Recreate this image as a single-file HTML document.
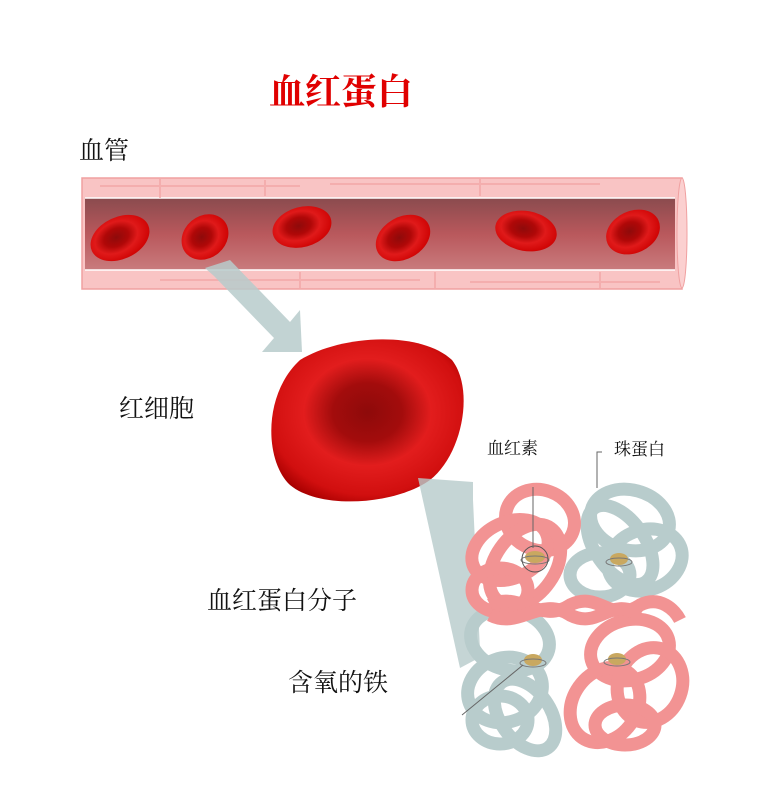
<!DOCTYPE html>
<html><head><meta charset="utf-8"><style>
body{margin:0;background:#fff;width:763px;height:810px;overflow:hidden;position:relative;font-family:"Liberation Serif","Noto Serif CJK SC",serif}
.t{position:absolute;white-space:nowrap;color:#111}
</style></head><body>
<svg width="763" height="810" style="position:absolute;left:0;top:0">
<defs>
<linearGradient id="lum" x1="0" y1="0" x2="0" y2="1">
<stop offset="0" stop-color="#8a4b4e"/><stop offset="0.5" stop-color="#b9585c"/><stop offset="1" stop-color="#c97b7d"/></linearGradient>
<radialGradient id="rbc" cx="0.45" cy="0.45" r="0.6">
<stop offset="0" stop-color="#8e0a0a"/><stop offset="0.35" stop-color="#b00808"/><stop offset="0.6" stop-color="#e01a1a"/><stop offset="1" stop-color="#c00"/></radialGradient>
<radialGradient id="big" cx="0.5" cy="0.45" r="0.6">
<stop offset="0" stop-color="#8e0a0a"/><stop offset="0.3" stop-color="#a30c0c"/><stop offset="0.55" stop-color="#e21d1d"/><stop offset="0.85" stop-color="#d10f0f"/><stop offset="1" stop-color="#a80000"/></radialGradient>
</defs>
<rect x="82" y="178" width="600" height="111" fill="#f9c4c4" stroke="#f0a0a0" stroke-width="1.5"/>
<ellipse cx="682" cy="233" rx="5" ry="55" fill="#fbd0d0" stroke="#f0a0a0"/>
<rect x="85" y="198" width="590" height="72" fill="url(#lum)"/>
<line x1="85" y1="198" x2="675" y2="198" stroke="#fff" stroke-width="1.5"/>
<line x1="85" y1="270" x2="675" y2="270" stroke="#fff" stroke-width="1.5"/>
<g stroke="#f3a9a9" stroke-width="2" fill="none" opacity="0.8">
<path d="M100 186 H300 M330 184 H600 M160 280 H420 M470 282 H660 M160 178 V198 M265 180 V196 M480 178 V196 M300 272 V289 M435 272 V289 M600 272 V289"/>
</g>
<g>
<ellipse cx="120" cy="238" rx="31" ry="21" fill="url(#rbc)" transform="rotate(-25 120 238)"/>
<ellipse cx="205" cy="237" rx="25" ry="21" fill="url(#rbc)" transform="rotate(-40 205 237)"/>
<ellipse cx="302" cy="227" rx="30" ry="20" fill="url(#rbc)" transform="rotate(-15 302 227)"/>
<ellipse cx="403" cy="238" rx="29" ry="21" fill="url(#rbc)" transform="rotate(-30 403 238)"/>
<ellipse cx="526" cy="231" rx="31" ry="20" fill="url(#rbc)" transform="rotate(10 526 231)"/>
<ellipse cx="633" cy="232" rx="28" ry="21" fill="url(#rbc)" transform="rotate(-25 633 232)"/>
</g>
<polygon points="205,268 230,260 290,322 300,310 302,352 262,352 274,338 214,276" fill="#b7cbcb" opacity="0.85"/>
<path d="M300 360 C340 335 420 330 452 360 C475 390 462 455 430 480 C395 505 320 510 290 485 C265 462 262 395 300 360 Z" fill="url(#big)"/>
<polygon points="418,478 473,482 473,500 480,650 475,660 460,668" fill="#b7cbcb" opacity="0.8"/>
<g fill="none" stroke-width="13">
<!-- top-right grey -->
<g stroke="#b8cccc">
<ellipse cx="630" cy="520" rx="40" ry="30" transform="rotate(15 630 520)"/>
<ellipse cx="645" cy="560" rx="38" ry="30" transform="rotate(-20 645 560)"/>
<ellipse cx="620" cy="545" rx="25" ry="45" transform="rotate(-35 620 545)"/>
<ellipse cx="600" cy="575" rx="30" ry="22"/>
</g>
<!-- bottom-left grey -->
<g stroke="#b8cccc">
<ellipse cx="510" cy="640" rx="40" ry="30" transform="rotate(15 510 640)"/>
<ellipse cx="505" cy="690" rx="38" ry="32" transform="rotate(-20 505 690)"/>
<ellipse cx="525" cy="715" rx="25" ry="40" transform="rotate(-35 525 715)"/>
<ellipse cx="500" cy="720" rx="28" ry="24"/>
</g>
<!-- top-left pink -->
<g stroke="#f29393">
<ellipse cx="540" cy="520" rx="35" ry="30" transform="rotate(20 540 520)"/>
<ellipse cx="510" cy="550" rx="40" ry="28" transform="rotate(-25 510 550)"/>
<ellipse cx="525" cy="565" rx="30" ry="45" transform="rotate(35 525 565)"/>
<ellipse cx="500" cy="590" rx="28" ry="22"/>
</g>
<!-- bottom-right pink -->
<g stroke="#f29393">
<ellipse cx="630" cy="650" rx="40" ry="30" transform="rotate(-15 630 650)"/>
<ellipse cx="650" cy="685" rx="32" ry="38" transform="rotate(20 650 685)"/>
<ellipse cx="605" cy="705" rx="32" ry="40" transform="rotate(35 605 705)"/>
<ellipse cx="625" cy="725" rx="30" ry="20"/>
</g>
<path d="M490 605 C520 590 540 625 570 605 C600 590 610 625 640 605 C660 595 675 610 680 620" stroke="#f29393"/>
<path d="M490 615 C520 630 540 595 570 615 C600 630 610 595 640 615" stroke="#f29393"/>
</g>
<g>
<ellipse cx="535" cy="557" rx="10" ry="6" fill="#c9a860"/><ellipse cx="535" cy="560" rx="14" ry="4" fill="none" stroke="#777"/><circle cx="535" cy="559" r="13" fill="none" stroke="#555"/>
<ellipse cx="619" cy="559" rx="9" ry="6" fill="#c9a860"/><ellipse cx="619" cy="562" rx="13" ry="4" fill="none" stroke="#777"/>
<ellipse cx="533" cy="660" rx="9" ry="6" fill="#c9a860"/><ellipse cx="533" cy="663" rx="13" ry="4" fill="none" stroke="#777"/>
<ellipse cx="617" cy="659" rx="9" ry="6" fill="#c9a860"/><ellipse cx="617" cy="662" rx="13" ry="4" fill="none" stroke="#777"/>
</g>
<g stroke="#666" stroke-width="1" fill="none">
<line x1="533" y1="487" x2="533" y2="548"/>
<path d="M602 452 H597 V488"/>
<line x1="523" y1="665" x2="462" y2="715"/>
</g>
</svg>
<div class="t" style="left:269px;top:64px;font-size:36px;color:#e00000;font-weight:bold">血红蛋白</div>
<div class="t" style="left:79px;top:131px;font-size:25px">血管</div>
<div class="t" style="left:119px;top:389px;font-size:25px">红细胞</div>
<div class="t" style="left:487px;top:434px;font-size:17px">血红素</div>
<div class="t" style="left:614px;top:435px;font-size:17px">珠蛋白</div>
<div class="t" style="left:207px;top:581px;font-size:25px">血红蛋白分子</div>
<div class="t" style="left:288px;top:663px;font-size:25px">含氧的铁</div>
</body></html>
